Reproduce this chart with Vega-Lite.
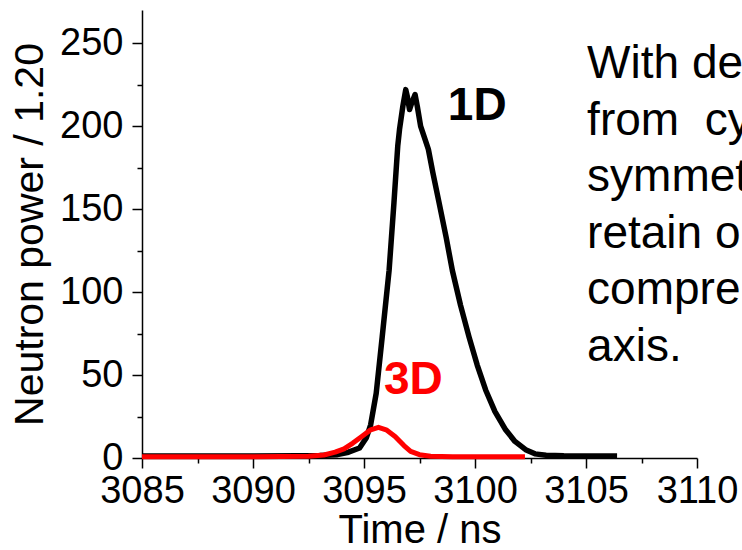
{
  "$schema": "https://vega.github.io/schema/vega-lite/v6.json",
  "width": 555,
  "height": 448,
  "autosize": {"type": "none"},
  "padding": {"left": 142, "top": 10, "right": 45, "bottom": 92},
  "background": "white",
  "config": {"view": {"stroke": null}, "font": "Liberation Sans"},
  "datasets": {
    "d1": [
      {"t": 3085, "v": 1.2}, {"t": 3090, "v": 1.2}, {"t": 3092, "v": 1.3}, {"t": 3093, "v": 1.5},
      {"t": 3093.8, "v": 2}, {"t": 3094.3, "v": 3.5}, {"t": 3094.8, "v": 6}, {"t": 3095.1, "v": 12},
      {"t": 3095.3, "v": 20}, {"t": 3095.55, "v": 39}, {"t": 3095.82, "v": 73}, {"t": 3096.13, "v": 113},
      {"t": 3096.35, "v": 154}, {"t": 3096.52, "v": 188}, {"t": 3096.6, "v": 198}, {"t": 3096.75, "v": 212},
      {"t": 3096.88, "v": 222}, {"t": 3096.95, "v": 218}, {"t": 3097.05, "v": 210}, {"t": 3097.15, "v": 214},
      {"t": 3097.3, "v": 219}, {"t": 3097.4, "v": 212}, {"t": 3097.55, "v": 200}, {"t": 3097.75, "v": 192},
      {"t": 3097.9, "v": 186}, {"t": 3098.1, "v": 172}, {"t": 3098.38, "v": 154}, {"t": 3098.7, "v": 133},
      {"t": 3098.98, "v": 113}, {"t": 3099.35, "v": 92}, {"t": 3099.73, "v": 73}, {"t": 3100.1, "v": 56},
      {"t": 3100.48, "v": 41}, {"t": 3100.9, "v": 28}, {"t": 3101.38, "v": 17}, {"t": 3101.8, "v": 10},
      {"t": 3102.28, "v": 5}, {"t": 3102.7, "v": 2.5}, {"t": 3103.2, "v": 1.6}, {"t": 3104, "v": 1.3},
      {"t": 3106.4, "v": 1.2}
    ],
    "d3": [
      {"t": 3085, "v": 0.8}, {"t": 3090, "v": 0.8}, {"t": 3092.5, "v": 1}, {"t": 3093.2, "v": 1.8},
      {"t": 3093.7, "v": 3.5}, {"t": 3094.1, "v": 5.5}, {"t": 3094.5, "v": 9}, {"t": 3094.9, "v": 13},
      {"t": 3095.3, "v": 17}, {"t": 3095.65, "v": 18.5}, {"t": 3096.0, "v": 17}, {"t": 3096.4, "v": 13},
      {"t": 3096.8, "v": 7.5}, {"t": 3097.1, "v": 4}, {"t": 3097.5, "v": 2}, {"t": 3098, "v": 1.1},
      {"t": 3099, "v": 0.8}, {"t": 3102.25, "v": 0.8}
    ],
    "labels": [
      {"t": 3100.1, "v": 212, "label": "1D", "c": "#000000"},
      {"t": 3097.22, "v": 47, "label": "3D", "c": "#ff0000"}
    ],
    "note": [
      {"t": 3105.05, "v": 229, "text": ["With de", "from\u00a0\u00a0cy", "symmet", "retain o", "compre", "axis."]}
    ]
  },
  "layer": [
    {
      "data": {"name": "d1"},
      "mark": {"type": "line", "color": "#000000", "strokeWidth": 5.5, "strokeJoin": "round"},
      "encoding": {
        "x": {"field": "t", "type": "quantitative",
          "scale": {"domain": [3085, 3110], "nice": false, "zero": false},
          "axis": {"orient": "bottom", "title": "Time / ns", "values": [3085, 3090, 3095, 3100, 3105, 3110], "format": "d",
            "grid": false, "domainColor": "#000000", "domainWidth": 1.5, "tickColor": "#000000", "tickWidth": 1.5,
            "tickSize": 10, "labelFontSize": 38, "labelColor": "#000000", "labelPadding": 4, "labelFlush": false,
            "titleFontSize": 40, "titleFontWeight": "normal", "titleColor": "#000000", "titlePadding": 0,
            "labelFont": "Liberation Sans", "titleFont": "Liberation Sans", "labelOverlap": false}},
        "y": {"field": "v", "type": "quantitative",
          "scale": {"domain": [0, 270], "nice": false},
          "axis": {"orient": "left", "title": "Neutron power / 1.20", "values": [0, 50, 100, 150, 200, 250],
            "grid": false, "domainColor": "#000000", "domainWidth": 1.5, "tickColor": "#000000", "tickWidth": 1.5,
            "tickSize": 10, "labelFontSize": 38, "labelColor": "#000000", "labelPadding": 9, "labelFlush": false,
            "titleFontSize": 41, "titleFontWeight": "normal", "titleColor": "#000000", "titlePadding": 8,
            "labelFont": "Liberation Sans", "titleFont": "Liberation Sans", "labelOverlap": false}}
      }
    },
    {
      "data": {"name": "d3"},
      "mark": {"type": "line", "color": "#ff0000", "strokeWidth": 5, "strokeJoin": "round"},
      "encoding": {
        "x": {"field": "t", "type": "quantitative",
          "axis": {"orient": "bottom", "title": null, "values": [3087.5, 3092.5, 3097.5, 3102.5, 3107.5],
            "labels": false, "domain": false, "grid": false, "tickColor": "#000000", "tickWidth": 1.5, "tickSize": 5}},
        "y": {"field": "v", "type": "quantitative",
          "axis": {"orient": "left", "title": null, "values": [25, 75, 125, 175, 225],
            "labels": false, "domain": false, "grid": false, "tickColor": "#000000", "tickWidth": 1.5, "tickSize": 5}}
      }
    },
    {
      "data": {"name": "labels"},
      "mark": {"type": "text", "fontSize": 46, "fontWeight": "bold", "align": "center", "baseline": "middle", "font": "Liberation Sans"},
      "encoding": {
        "x": {"field": "t", "type": "quantitative", "axis": null},
        "y": {"field": "v", "type": "quantitative", "axis": null},
        "text": {"field": "label"},
        "color": {"field": "c", "type": "nominal", "scale": null}
      }
    },
    {
      "data": {"name": "note"},
      "mark": {"type": "text", "fontSize": 46, "align": "left", "baseline": "alphabetic", "lineHeight": 56.6, "font": "Liberation Sans", "color": "#000000"},
      "encoding": {
        "x": {"field": "t", "type": "quantitative", "axis": null},
        "y": {"field": "v", "type": "quantitative", "axis": null},
        "text": {"field": "text"}
      }
    }
  ],
  "resolve": {"axis": {"x": "independent", "y": "independent"}}
}
